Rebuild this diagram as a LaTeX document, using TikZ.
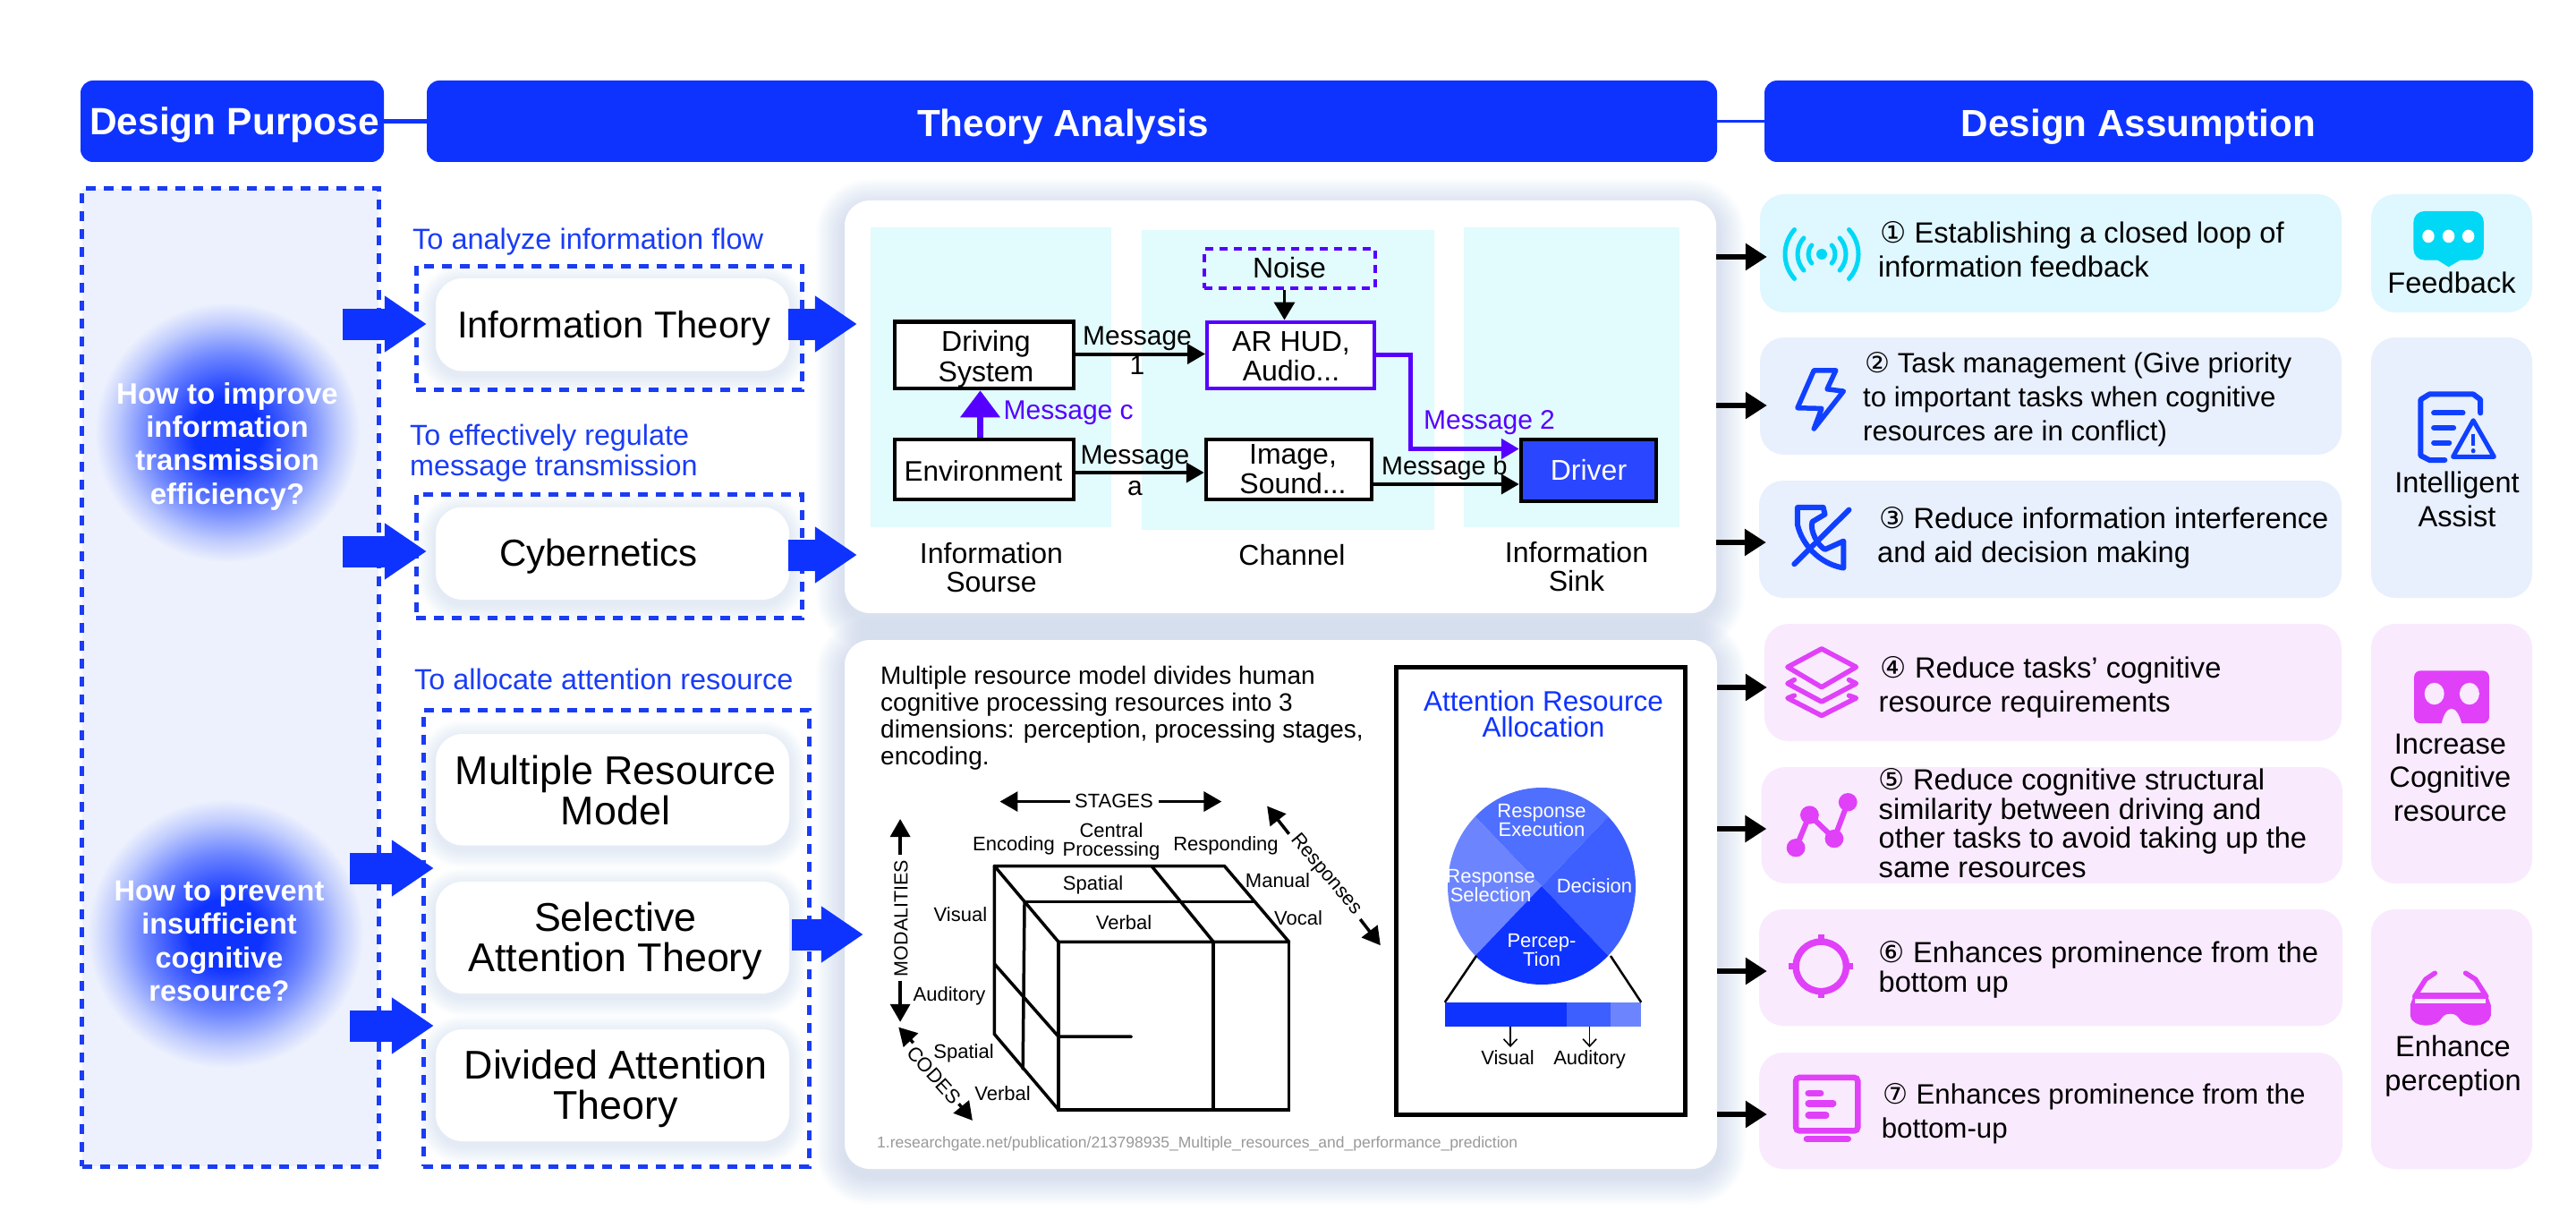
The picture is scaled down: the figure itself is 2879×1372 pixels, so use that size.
\documentclass[tikz,border=0pt]{standalone}
\usepackage{fontspec}
\setmainfont{Liberation Sans}
\newfontfamily\djf{DejaVu Sans}
\usetikzlibrary{arrows.meta,shapes.geometric}
\definecolor{qblue}{HTML}{0F33FF}
\definecolor{qdash}{HTML}{1A3CF5}
\definecolor{qpanel}{HTML}{EDF1FD}
\definecolor{qmid}{HTML}{6E86FF}
\definecolor{qpale}{HTML}{C0CCFD}
\definecolor{qpurple}{HTML}{5500FF}
\definecolor{qmag}{HTML}{E040F8}
\definecolor{qcyan}{HTML}{00D8F5}
\definecolor{qlcyan}{HTML}{DFF7FE}
\definecolor{qlblue}{HTML}{E8EFFD}
\definecolor{qlpink}{HTML}{F9EAFE}
\definecolor{qteal}{HTML}{E2FBFD}
\definecolor{qshade}{HTML}{B0C4E6}
\definecolor{qdriver}{HTML}{2B46FF}
\definecolor{qicon}{HTML}{1040FF}
\definecolor{qsA}{HTML}{4F6FFF}
\definecolor{qsB}{HTML}{3D5FFF}
\definecolor{qsC}{HTML}{6C85FF}
\pgfdeclareradialshading{qblob}{\pgfpoint{0bp}{0bp}}{color(0bp)=(qblue); color(6.5bp)=(qblue); color(15bp)=(qmid); color(21bp)=(qpale); color(25bp)=(qpanel); color(50bp)=(qpanel)}
\newcommand\bx[6]{\node[#2,minimum width={(#5-#3)*1pt},minimum height={(#6-#4)*1pt}] (#1) at ({(#3+#5)/2},{(#4+#6)/2}) {};}
\newcommand\tx[7]{\node[inner sep=0pt,#2,font={\fontsize{#5}{#6}\selectfont}] (#1) at (#3,#4) {#7};}
\newcommand\softshade[6]{\foreach \d in {2,4,...,#5}{\fill[qshade,opacity=.03,rounded corners={(#6+\d)*1pt}] (#1-\d,#2-\d+#5/4) rectangle (#3+\d,#4+\d+#5/4);}}
\newcommand\cd[1]{{\djf #1}}
\tikzset{
 hdr/.style={fill=qblue,rounded corners=14pt,inner sep=0pt},
 dashbox/.style={draw=qdash,line width=5pt,dash pattern=on 11pt off 9pt,inner sep=0pt},
 whitebox/.style={fill=white,rounded corners=30pt,inner sep=0pt},
 bigpanel/.style={fill=white,rounded corners=28pt,inner sep=0pt},
 bigarrow/.style={qblue,line width=35pt,-{Triangle[length=47pt,width=60pt]}},
 blackarrow/.style={black,line width=6pt,-{Triangle[length=24pt,width=29pt]},shorten >=-8pt},
 softbox/.style={rounded corners=27pt,inner sep=0pt},
 tealbox/.style={fill=qteal,inner sep=0pt},
 flowbox/.style={draw=black,line width=4.5pt,fill=white,inner sep=0pt},
 msgarrow/.style={black,line width=4pt,-{Triangle[length=20pt,width=22pt]}},
 cubeline/.style={black,line width=3.5pt,line cap=round},
 dimarrow/.style={black,line width=3.5pt,-{Triangle[length=20pt,width=22pt]}},
 iconline/.style={line width=6pt,line cap=round,line join=round},
}
\begin{document}
\begin{tikzpicture}[x=1pt,y=-1pt]
\useasboundingbox (0,0) rectangle (2879,1372);
\fill[white] (0,0) rectangle (2879,1372);

% panel shadows
\softshade{944}{224}{1918}{685}{32}{28}
\softshade{944}{715}{1919}{1306}{32}{28}
\bx{panelA}{bigpanel}{944}{224}{1918}{685}
\bx{panelB}{bigpanel}{944}{715}{1919}{1306}

% headers
\bx{hPurpose}{hdr}{90}{90}{429}{181}
\bx{hTheory}{hdr}{477}{90}{1919}{181}
\bx{hAssume}{hdr}{1972}{90}{2831}{181}
\draw[qblue,line width=5pt] (hPurpose.east) -- (hTheory.west);
\draw[qblue,line width=3pt] (hTheory.east) -- (hAssume.west);
\tx{tPurpose}{anchor=base,text=white}{262}{151}{42.5}{50}{\textbf{Design Purpose}}
\tx{tTheory}{anchor=base,text=white}{1188}{153}{42.2}{50}{\textbf{Theory Analysis}}
\tx{tAssume}{anchor=base,text=white}{2390}{153}{42.2}{50}{\textbf{Design Assumption}}

% left column
\bx{purposePanel}{dashbox,fill=qpanel}{91.5}{211}{423}{1303}
\node[ellipse,inner sep=0pt,minimum width=296pt,minimum height=290pt,shading=qblob] (blobA) at (254,483) {};
\node[ellipse,inner sep=0pt,minimum width=308pt,minimum height=300pt,shading=qblob] (blobB) at (252,1043) {};
\tx{qA}{anchor=base,align=center,text=white}{254}{563}{33}{37.3}{\textbf{How to improve}\\\textbf{information}\\\textbf{transmission}\\\textbf{efficiency?}}
\tx{qB}{anchor=base,align=center,text=white}{245}{1118.7}{32.5}{37.5}{\textbf{How to prevent}\\\textbf{insufficient}\\\textbf{cognitive}\\\textbf{resource?}}

% theory column
\softshade{487}{311}{882}{414.5}{20}{30}
\softshade{487}{566.5}{882}{670}{20}{30}
\softshade{487}{820}{882}{944.5}{20}{30}
\softshade{487}{985}{882}{1110}{20}{30}
\softshade{487}{1150}{882}{1275}{20}{30}
\bx{dashA}{dashbox}{465}{297}{896}{435}
\bx{dashB}{dashbox}{465}{552.6}{896}{690}
\bx{dashC}{dashbox}{473}{793}{904}{1303}
\bx{infoT}{whitebox}{487}{311}{882}{414.5}
\bx{cyber}{whitebox}{487}{566.5}{882}{670}
\bx{multi}{whitebox}{487}{820}{882}{944.5}
\bx{selec}{whitebox}{487}{985}{882}{1110}
\bx{divid}{whitebox}{487}{1150}{882}{1275}
\tx{lblA}{anchor=base west,text=qdash}{461}{279}{32.5}{36}{To analyze information flow}
\tx{lblB}{anchor=base west,align=left,text=qdash}{458}{531}{32.3}{34}{To effectively regulate\\message transmission}
\tx{lblC}{anchor=base west,text=qdash}{463}{770}{32.4}{36}{To allocate attention resource}
\tx{tInfo}{anchor=base}{686}{377}{41.7}{44}{Information Theory}
\tx{tCyber}{anchor=base}{669}{632}{42}{44}{Cybernetics}
\tx{tMulti}{anchor=base,align=center}{688}{921}{44.8}{44.5}{Multiple Resource\\Model}
\tx{tSelec}{anchor=base,align=center}{688}{1085}{44.8}{44.5}{Selective\\Attention Theory}
\tx{tDivid}{anchor=base,align=center}{688}{1250}{44.8}{44.5}{Divided Attention\\Theory}

% big arrows
\coordinate (sA) at (383,362);
\coordinate (sB) at (383,616);
\coordinate (sC) at (391,970);
\coordinate (sD) at (391,1146);
\draw[bigarrow,shorten >=10pt] (sA) -- (sA -| infoT.west);
\draw[bigarrow,shorten >=10pt] (sB) -- (sB -| cyber.west);
\draw[bigarrow,shorten >=2pt] (sC) -- (sC -| multi.west);
\draw[bigarrow,shorten >=2pt] (sD) -- (sD -| divid.west);
\coordinate (rA) at (881,362);
\coordinate (rB) at (881,620);
\coordinate (rC) at (885,1044);
\draw[bigarrow,shorten >=-14pt] (rA) -- (rA -| panelA.west);
\draw[bigarrow,shorten >=-14pt] (rB) -- (rB -| panelA.west);
\draw[bigarrow,shorten >=-21pt] (rC) -- (rC -| panelB.west);

% information theory diagram
\bx{colA}{tealbox}{973}{254}{1242}{589}
\bx{colB}{tealbox}{1275.5}{257}{1602.5}{592}
\bx{colC}{tealbox}{1636}{254}{1877}{589}
\bx{drive}{flowbox}{1000}{359.5}{1200}{434}
\bx{envir}{flowbox}{1000}{491}{1200}{558}
\bx{arhud}{flowbox,draw=qpurple,line width=4pt}{1349}{359.5}{1536}{434}
\bx{image}{flowbox}{1348}{491}{1533}{558}
\bx{noise}{draw=qpurple,line width=4pt,dash pattern=on 9pt off 7pt,inner sep=0pt}{1346}{278}{1537}{322}
\bx{driver}{flowbox,fill=qdriver}{1700}{491}{1851}{560}
\tx{tDrive}{anchor=base,align=center}{1102}{426}{32}{33.5}{Driving\\System}
\tx{tEnvir}{anchor=base}{1099}{537}{31.5}{33}{Environment}
\tx{tArhud}{anchor=base,align=center}{1443}{425}{32}{33}{AR HUD,\\Audio...}
\tx{tImage}{anchor=base,align=center}{1445}{551}{32}{33}{Image,\\Sound...}
\tx{tNoise}{anchor=base}{1441}{310}{32}{33}{Noise}
\tx{tDriver}{anchor=base,text=white}{1775.5}{536}{32}{33}{Driver}
\tx{tSrc}{anchor=base,align=center}{1108}{661}{32}{32}{Information\\Sourse}
\tx{tChan}{anchor=base}{1444}{631}{32}{32}{Channel}
\tx{tSink}{anchor=base,align=center}{1762}{660}{32}{32}{Information\\Sink}
\tx{mOne}{anchor=base,align=center}{1271}{418}{30}{33}{Message\\1}
\tx{mA}{anchor=base,align=center}{1268.5}{553}{30}{35}{Message\\a}
\tx{mC}{anchor=base west,text=qpurple}{1121.5}{468}{30}{33}{Message c}
\tx{mTwo}{anchor=base west,text=qpurple}{1591}{479}{30}{33}{Message 2}
\tx{mB}{anchor=base west}{1544}{530}{28.7}{33}{Message b}
\coordinate (yA) at (0,395.5);
\coordinate (yB) at (0,528);
\coordinate (yC) at (0,541);
\draw[msgarrow] (yA -| drive.east) -- (yA -| arhud.west);
\draw[msgarrow] (yB -| envir.east) -- (yB -| image.west);
\draw[msgarrow] (yC -| image.east) -- (yC -| driver.west);
\coordinate (xN) at (1435.5,0);
\draw[black,line width=3.5pt,-{Triangle[length=20pt,width=23pt]}] (xN |- noise.south) -- (xN |- arhud.north);
\coordinate (xE) at (1095.5,0);
\draw[qpurple,line width=7pt,-{Triangle[length=30pt,width=43pt]}] (xE |- envir.north) -- (xE |- drive.south);
\coordinate (yD) at (0,501.5);
\draw[qpurple,line width=5pt,-{Triangle[length=20pt,width=22pt]}] (arhud.east) -- ++(38.5,0) |- (yD -| driver.west);

% multiple resource text
\tx{tModel}{anchor=base west,align=left}{984}{854}{28}{30}{Multiple resource model divides human\\cognitive processing resources into 3\\dimensions: perception, processing stages,\\encoding.}
\tx{tFoot}{anchor=base west,text=black!40}{980}{1282.6}{17.5}{20}{1.researchgate.net/publication/213798935\_Multiple\_resources\_and\_performance\_prediction}

% cube
\begin{scope}[shift={(940,710)},x=.612pt,y=-.389pt]
\draw[cubeline,line join=round] (280,662) -- (700,662) -- (818,880) -- (397,880) -- cycle;
\draw[cubeline] (335,765) -- (755,765);
\draw[cubeline] (567,662) -- (680,880);
\draw[cubeline] (397,880) -- (397,1362) -- (818,1362) -- (818,880);
\draw[cubeline] (680,880) -- (680,1362);
\draw[cubeline] (280,662) -- (280,1145) -- (397,1362);
\draw[cubeline] (335,765) -- (332,1245);
\draw[cubeline] (280,943) -- (397,1152) -- (530,1152);
\coordinate (stL) at (418,477); \coordinate (stLt) at (290,477);
\coordinate (stR) at (580,477); \coordinate (stRt) at (695,477);
\draw[dimarrow] (stL) -- (stLt);
\draw[dimarrow] (stR) -- (stRt);
\coordinate (moU) at (108,630); \coordinate (moUt) at (108,527);
\coordinate (moD) at (108,992); \coordinate (moDt) at (108,1110);
\draw[dimarrow] (moU) -- (moUt);
\draw[dimarrow] (moD) -- (moDt);
\coordinate (reU) at (818,570); \coordinate (reUt) at (778,490);
\coordinate (reD) at (948,815); \coordinate (reDt) at (985,890);
\draw[dimarrow] (reU) -- (reUt);
\draw[dimarrow] (reD) -- (reDt);
\coordinate (coU) at (132,1170); \coordinate (coUt) at (105,1125);
\coordinate (coD) at (215,1345); \coordinate (coDt) at (240,1393);
\draw[dimarrow] (coU) -- (coUt);
\draw[dimarrow] (coD) -- (coDt);
\end{scope}
\tx{cStages}{anchor=base}{1245}{902.6}{22}{24}{STAGES}
\tx{cEnc}{anchor=base}{1133}{950}{22}{24}{Encoding}
\tx{cCen}{anchor=base,align=center}{1242}{956}{22}{20.5}{Central\\Processing}
\tx{cRes}{anchor=base}{1370}{950}{22}{24}{Responding}
\tx{cSpa}{anchor=base}{1221.5}{994}{22}{24}{Spatial}
\tx{cVer}{anchor=base}{1256}{1038}{22}{24}{Verbal}
\tx{cMan}{anchor=base}{1428}{991}{22}{24}{Manual}
\tx{cVoc}{anchor=base}{1451}{1033}{22}{24}{Vocal}
\tx{cVis}{anchor=base}{1073.4}{1029}{22}{24}{Visual}
\tx{cAud}{anchor=base}{1061}{1118.5}{22}{24}{Auditory}
\tx{cSpb}{anchor=base}{1077}{1182.6}{22}{24}{Spatial}
\tx{cVeb}{anchor=base}{1120.5}{1229}{22}{24}{Verbal}
\tx{cMod}{anchor=center,rotate=90}{1007}{1026}{21.5}{24}{MODALITIES}
\tx{cRsp}{anchor=center,rotate=-50}{1482}{977}{22}{24}{Responses}
\tx{cCod}{anchor=center,rotate=-48}{1044}{1201}{22}{24}{CODES}

% attention box
\bx{attn}{draw=black,line width=5pt,inner sep=0pt}{1560.5}{745}{1883}{1245}
\tx{tAttn}{anchor=base,align=center,text=qblue}{1725}{823.6}{31.5}{29.6}{Attention Resource\\Allocation}
\fill[qsC] (1723,990) -- +(135:105 and 110) arc[start angle=135,end angle=225,x radius=105,y radius=110] -- cycle;
\fill[qsA] (1723,990) -- +(225:105 and 110) arc[start angle=225,end angle=315,x radius=105,y radius=110] -- cycle;
\fill[qsB] (1723,990) -- +(-45:105 and 110) arc[start angle=-45,end angle=45,x radius=105,y radius=110] -- cycle;
\fill[qblue] (1723,990) -- +(45:105 and 110) arc[start angle=45,end angle=135,x radius=105,y radius=110] -- cycle;
\tx{pTop}{anchor=base,align=center,text=white}{1723}{934.5}{22}{20.5}{Response\\Execution}
\tx{pLeft}{anchor=base,align=center,text=white}{1666}{1007.6}{22}{20.5}{Response\\Selection}
\tx{pRight}{anchor=base,text=white}{1782}{997}{22}{24}{Decision}
\tx{pBot}{anchor=base,align=center,text=white}{1723}{1079.5}{22}{20.5}{Percep-\\Tion}
\bx{barA}{fill=qblue,inner sep=0pt}{1615}{1120}{1751}{1146.5}
\bx{barB}{fill=qsB,inner sep=0pt}{1751}{1120}{1800}{1146.5}
\bx{barC}{fill=qsC,inner sep=0pt}{1800}{1120}{1834}{1146.5}
\coordinate (pieL) at (1650,1068);
\coordinate (pieR) at (1800,1068);
\draw[black,line width=2.5pt] (pieL) -- (barA.north west);
\draw[black,line width=2.5pt] (pieR) -- (barC.north east);
\coordinate (xV) at (1688,1170);
\coordinate (xA) at (1776.6,1170);
\draw[black,line width=1.6pt,-{Straight Barb[length=8pt,width=15pt]}] (xV |- barA.south) -- (xV);
\draw[black,line width=1.6pt,-{Straight Barb[length=8pt,width=15pt]}] (xA |- barB.south) -- (xA);
\tx{bVis}{anchor=base}{1685}{1189}{22}{24}{Visual}
\tx{bAud}{anchor=base}{1776.6}{1189}{22}{24}{Auditory}

% assumption boxes
\bx{aOne}{softbox,fill=qlcyan}{1967}{217}{2617}{349}
\bx{aTwo}{softbox,fill=qlblue}{1967}{377}{2617}{508}
\bx{aThree}{softbox,fill=qlblue}{1966}{537}{2617}{668}
\bx{aFour}{softbox,fill=qlpink}{1972}{697}{2617}{828}
\bx{aFive}{softbox,fill=qlpink}{1968.5}{857}{2618}{987}
\bx{aSix}{softbox,fill=qlpink}{1966}{1016}{2618}{1146}
\bx{aSeven}{softbox,fill=qlpink}{1966}{1176}{2618}{1306}
\bx{rOne}{softbox,fill=qlcyan}{2650}{217}{2830}{349}
\bx{rTwo}{softbox,fill=qlblue}{2650}{377}{2830}{668}
\bx{rThree}{softbox,fill=qlpink}{2650}{697}{2830}{987}
\bx{rFour}{softbox,fill=qlpink}{2650}{1016}{2830}{1306}

\coordinate (bOne) at (0,287);
\coordinate (bTwo) at (0,453);
\coordinate (bThree) at (0,606);
\coordinate (bFour) at (0,768);
\coordinate (bFive) at (0,926);
\coordinate (bSix) at (0,1085);
\coordinate (bSeven) at (0,1245);
\draw[blackarrow] (bOne -| panelA.east) -- (bOne -| aOne.west);
\draw[blackarrow] (bTwo -| panelA.east) -- (bTwo -| aTwo.west);
\draw[blackarrow] (bThree -| panelA.east) -- (bThree -| aThree.west);
\draw[blackarrow,shorten >=-3pt] (bFour -| panelB.east) -- (bFour -| aFour.west);
\draw[blackarrow,shorten >=-6pt] (bFive -| panelB.east) -- (bFive -| aFive.west);
\draw[blackarrow,shorten >=-9pt] (bSix -| panelB.east) -- (bSix -| aSix.west);
\draw[blackarrow,shorten >=-9pt] (bSeven -| panelB.east) -- (bSeven -| aSeven.west);

\tx{sOne}{anchor=base west,align=left}{2099}{309}{32.6}{37.3}{\hspace*{2pt}\cd{①} Establishing a closed loop of\\information feedback}
\tx{sTwo}{anchor=base west,align=left}{2082}{492}{31.2}{38}{\hspace*{2pt}\cd{②} Task management (Give priority\\to important tasks when cognitive\\resources are in conflict)}
\tx{sThree}{anchor=base west,align=left}{2098}{628}{32.6}{37.4}{\hspace*{2pt}\cd{③} Reduce information interference\\and aid decision making}
\tx{sFour}{anchor=base west,align=left}{2099.5}{795}{32.6}{37.5}{\hspace*{2pt}\cd{④} Reduce tasks' cognitive\\resource requirements}
\tx{sFive}{anchor=base west,align=left}{2099.5}{980}{32.6}{32.5}{\cd{⑤} Reduce cognitive structural\\similarity between driving and\\other tasks to avoid taking up the\\same resources}
\tx{sSix}{anchor=base west,align=left}{2099.5}{1108}{32.6}{32.5}{\cd{⑥} Enhances prominence from the\\bottom up}
\tx{sSeven}{anchor=base west,align=left}{2102.6}{1271.6}{31.3}{38}{\hspace*{2pt}\cd{⑦} Enhances prominence from the\\bottom-up}

\tx{gOne}{anchor=base}{2740}{327.5}{32.6}{37}{Feedback}
\tx{gTwo}{anchor=base,align=center}{2746}{588}{32.6}{38}{Intelligent\\Assist}
\tx{gThree}{anchor=base,align=center}{2738.4}{917.5}{32.6}{37.7}{Increase\\Cognitive\\resource}
\tx{gFour}{anchor=base,align=center}{2741.5}{1218}{32.6}{38}{Enhance\\perception}

% icons, upper group
\begin{scope}[shift={(1900,200)},x=.612pt,y=-.333pt]
\draw[qicon,iconline,line width=5.5pt] (208,642) -- (248,642) -- (232,705) -- (262,712) -- (208,838) -- (222,770) -- (178,768) -- cycle;
\draw[qicon,iconline] (272,1110) -- (172,1292);
\draw[qicon,iconline] (178,1102) -- (225,1102) -- (228,1125) -- (205,1150) .. controls (200,1180) and (215,1230) .. (228,1243) -- (262,1215) -- (262,1305) .. controls (215,1290) and (185,1220) .. (178,1160) -- cycle;
\fill[qcyan,rounded corners=12pt] (1303,108) rectangle (1431,272);
\fill[qcyan] (1345,270) -- (1390,270) -- (1367,295) -- cycle;
\fill[white] (1330,192) ellipse [x radius=11,y radius=22];
\fill[white] (1367,192) ellipse [x radius=11,y radius=22];
\fill[white] (1403,192) ellipse [x radius=11,y radius=22];
\draw[qicon,iconline] (1425,785) -- (1425,740) -- (1412,722) -- (1332,722) -- (1316,740) -- (1316,928) -- (1332,943) -- (1360,943);
\draw[qicon,iconline] (1340,785) -- (1393,785);
\draw[qicon,iconline] (1340,835) -- (1376,835);
\draw[qicon,iconline] (1340,885) -- (1368,885);
\draw[qicon,iconline,line width=5pt] (1412,810) -- (1450,932) -- (1375,932) -- cycle;
\draw[qicon,line width=4pt] (1412,855) -- (1412,895);
\fill[qicon] (1412,912) circle [x radius=4,y radius=8];
\end{scope}
% signal icon
\fill[qcyan] (2036,284) circle (6pt);
\foreach \r in {15,27,41}{
 \draw[qcyan,line width=5pt,line cap=round] (2036,284) ++(-42:\r) arc[start angle=-42,end angle=42,radius=\r];
 \draw[qcyan,line width=5pt,line cap=round] (2036,284) ++(138:\r) arc[start angle=138,end angle=222,radius=\r];
}

% icons, lower group
\begin{scope}[shift={(1900,680)},x=.612pt,y=-.408pt]
\draw[qmag,iconline,line width=5.5pt] (222,110) -- (285,160) -- (222,215) -- (160,160) -- cycle;
\draw[qmag,iconline,line width=5.5pt] (172,195) -- (160,205) -- (222,255) -- (285,205) -- (272,195);
\draw[qmag,iconline,line width=5.5pt] (172,238) -- (160,245) -- (222,293) -- (285,245) -- (272,238);
\draw[qmag,iconline] (175,655) -- (200,565) -- (245,630) -- (270,530);
\fill[qmag] (175,655) ellipse [x radius=17,y radius=25];
\fill[qmag] (200,565) ellipse [x radius=17,y radius=25];
\fill[qmag] (245,630) ellipse [x radius=17,y radius=25];
\fill[qmag] (270,530) ellipse [x radius=17,y radius=25];
\draw[qmag,line width=7.5pt] (221,980) ellipse [x radius=46,y radius=68];
\draw[qmag,line width=7pt] (221,892) -- (221,915);
\draw[qmag,line width=7pt] (221,1045) -- (221,1067);
\draw[qmag,line width=7pt] (162,980) -- (178,980);
\draw[qmag,line width=7pt] (264,980) -- (280,980);
\draw[qmag,line width=6.5pt,rounded corners=4pt] (175,1284) rectangle (288,1430);
\draw[qmag,line width=7.5pt,line cap=round] (198,1327) -- (220,1327);
\draw[qmag,line width=7.5pt,line cap=round] (198,1355) -- (243,1355);
\draw[qmag,line width=7.5pt,line cap=round] (198,1387) -- (230,1387);
\draw[qmag,line width=7.5pt,line cap=round] (195,1452) -- (270,1452);
\fill[qmag,rounded corners=7pt] (1304,170) rectangle (1441,314);
\fill[qlpink] (1341,233) ellipse [x radius=18,y radius=30];
\fill[qlpink] (1405,233) ellipse [x radius=18,y radius=30];
\fill[qlpink] (1354,316) .. controls (1362,260) and (1382,260) .. (1391,316) -- cycle;
\draw[qmag,iconline,line width=5.5pt] (1305,1062) -- (1325,1015) -- (1342,998);
\draw[qmag,iconline,line width=5.5pt] (1436,1062) -- (1416,1015) -- (1398,998);
\fill[qmag] (1297,1085) -- (1305,1052) -- (1436,1052) -- (1444,1085) -- (1444,1115) .. controls (1440,1148) and (1395,1150) .. (1385,1120) .. controls (1380,1106) and (1360,1106) .. (1355,1120) .. controls (1345,1150) and (1300,1148) .. (1297,1115) -- cycle;
\fill[qlpink] (1306,1068) rectangle (1435,1082);
\end{scope}
\end{tikzpicture}
\end{document}
